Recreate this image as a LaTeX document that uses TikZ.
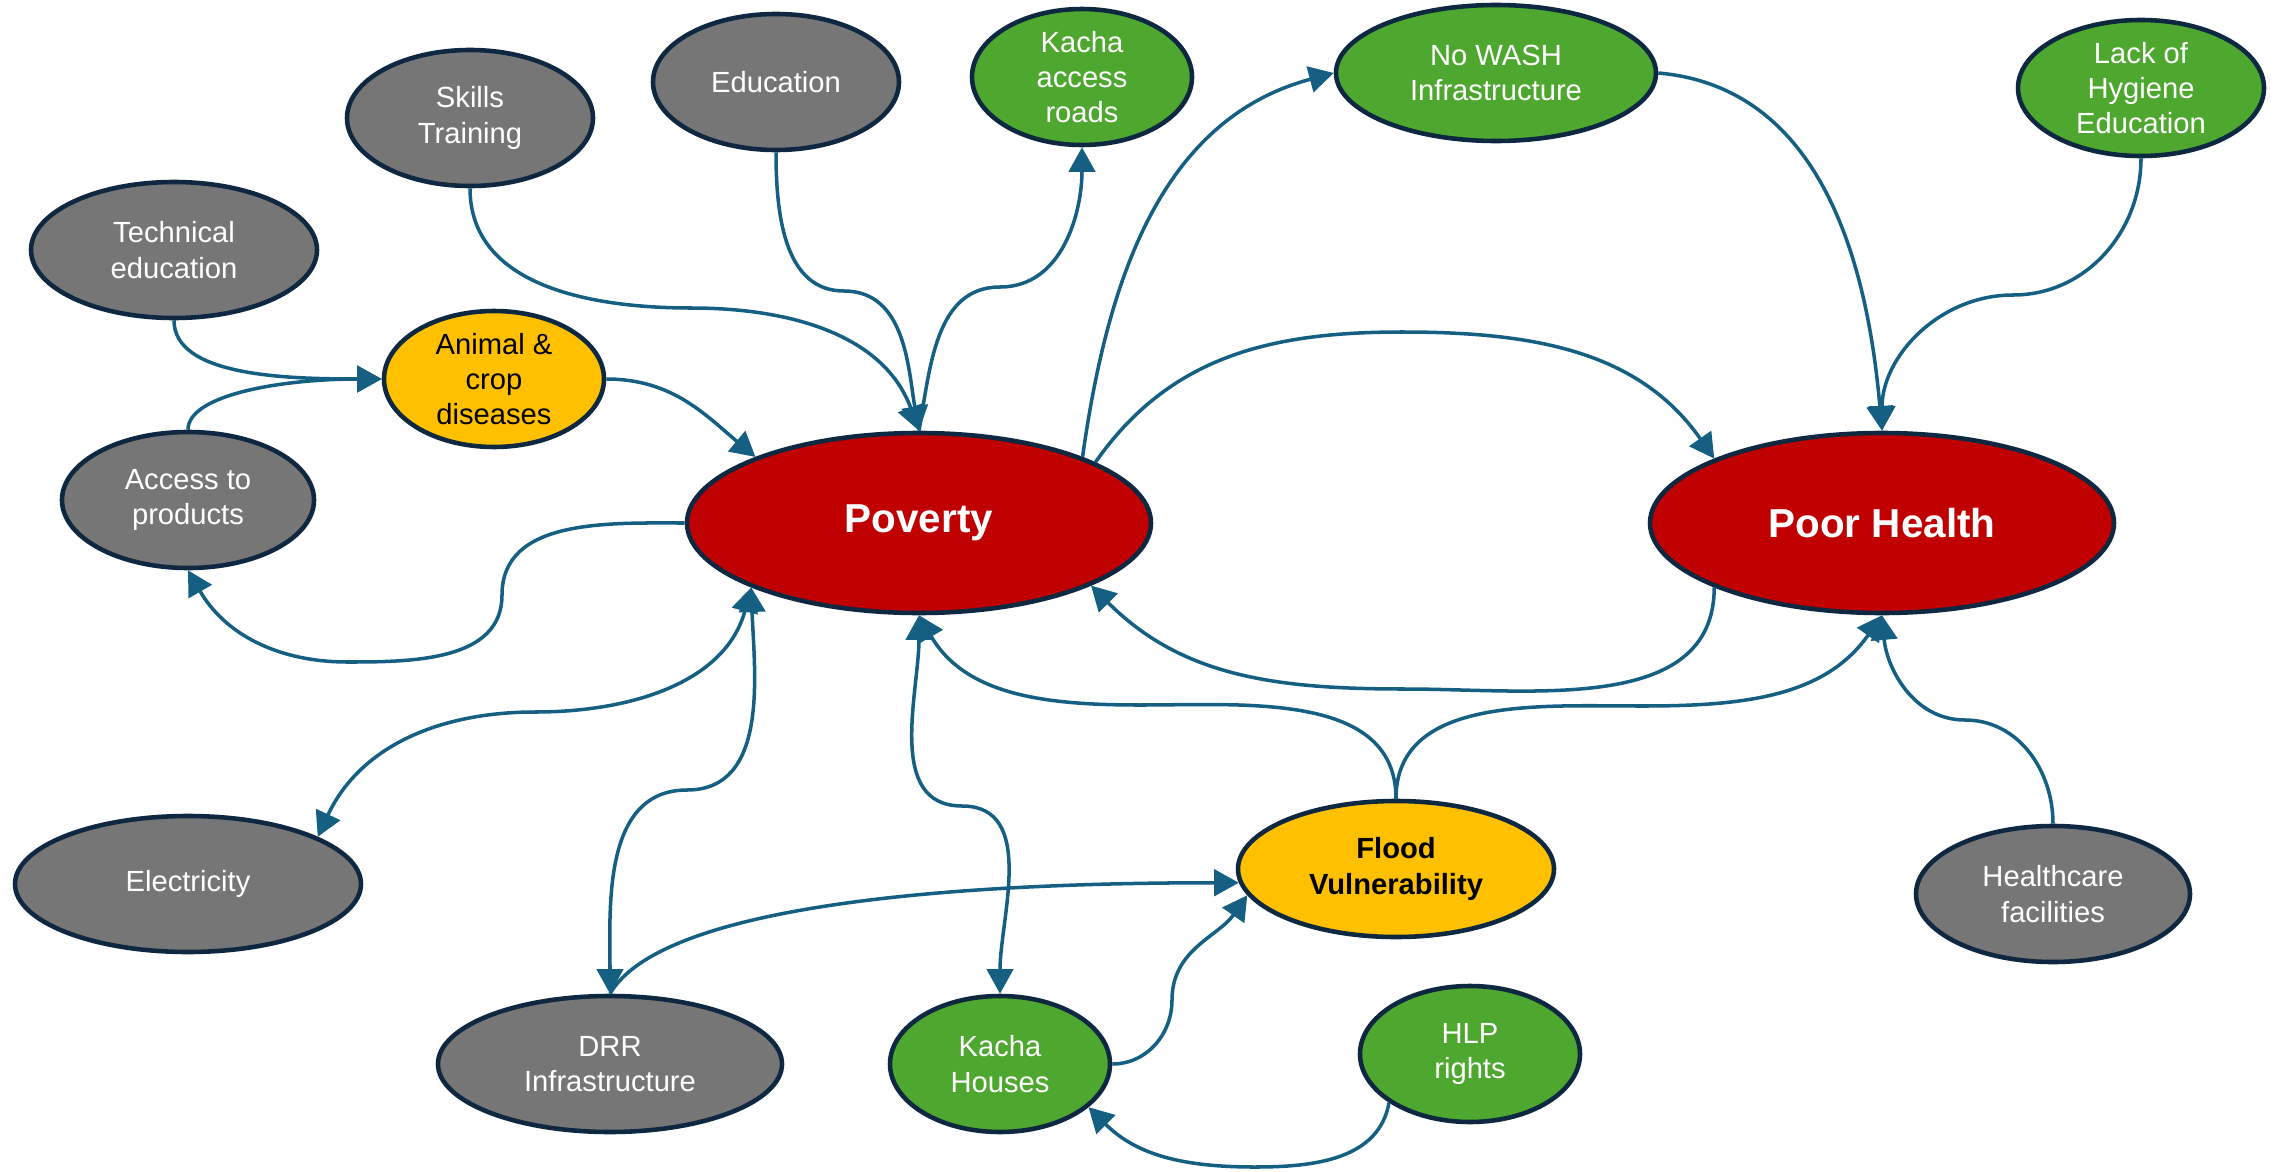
\documentclass[tikz,border=0pt]{standalone}
\usepackage{fontspec}
\setmainfont{Liberation Sans}
\usepackage{tikz}
\usetikzlibrary{
  arrows.meta,
  shapes.geometric
}
\definecolor{rimnavy}{HTML}{0E2841}
\definecolor{linkblue}{HTML}{156082}
\definecolor{fillgrey}{HTML}{767676}
\definecolor{fillgreen}{HTML}{4EA72E}
\definecolor{fillgold}{HTML}{FFC000}
\definecolor{fillred}{HTML}{C00000}
\tikzset{
  bubble/.style={
    ellipse,
    draw=rimnavy,
    line width=1.3pt,
    inner sep=0pt,
    minimum height=1.36cm,
    align=center,
    text=white,
    font=\fontsize{8.3}{10}\selectfont},
  greynode/.style={bubble, fill=fillgrey},
  greennode/.style={bubble, fill=fillgreen},
  goldnode/.style={bubble, fill=fillgold, text=black},
  bignode/.style={bubble, fill=fillred, minimum height=1.8cm,
    font=\fontsize{11.5}{14}\selectfont\bfseries},
  link/.style={
    draw=linkblue,
    line width=1pt,
    >={Triangle[length=7pt,width=7.5pt]}}
  }

\begin{document}
\begin{tikzpicture}
  \useasboundingbox (0,0) rectangle (22.8,-11.72);
  % the two main problems
  \node[bignode, minimum width=4.64cm] (pov) at (9.19,-5.23) {Poverty};
  \node[bignode, minimum width=4.64cm] (hlth) at (18.82,-5.23) {Poor Health};
  % causes
  \node[greynode, minimum width=2.86cm] (tech) at (1.74,-2.50) {Technical\\education};
  \node[greynode, minimum width=2.46cm] (skl) at (4.70,-1.18) {Skills\\Training};
  \node[greynode, minimum width=2.46cm] (edu) at (7.76,-0.82) {Education};
  \node[greennode, minimum width=2.20cm] (road) at (10.82,-0.77) {Kacha\\access\\roads};
  \node[greennode, minimum width=3.20cm] (wash) at (14.96,-0.73) {No WASH\\Infrastructure};
  \node[greennode, minimum width=2.46cm] (hyg) at (21.41,-0.88) {Lack of\\Hygiene\\Education};
  \node[goldnode, minimum width=2.20cm] (anim) at (4.94,-3.79) {Animal \&\\crop\\diseases};
  \node[greynode, minimum width=2.52cm] (acc) at (1.88,-5.00) {Access to\\products};
  \node[greynode, minimum width=3.46cm] (elec) at (1.88,-8.84) {Electricity};
  \node[greynode, minimum width=3.44cm] (drr) at (6.10,-10.64) {DRR\\Infrastructure};
  \node[greennode, minimum width=2.20cm] (kh) at (10.00,-10.64) {Kacha\\Houses};
  \node[greennode, minimum width=2.20cm] (hlp) at (14.70,-10.54) {HLP\\rights};
  \node[goldnode, minimum width=3.16cm, font=\fontsize{8.3}{10}\selectfont\bfseries] (flood) at (13.96,-8.69) {Flood\\Vulnerability};
  \node[greynode, minimum width=2.74cm] (care) at (20.53,-8.94) {Healthcare\\facilities};

  % links into poverty
  \draw[link,->] (skl.south) to[out=-90,in=180] (6.91,-3.08) to[out=0,in=110] (pov.north);
  \draw[link,->] (edu.south) to[out=-90,in=180] (8.44,-2.91) to[out=0,in=100] (pov.north);
  \draw[link,->] (pov.north) to[out=80,in=180] (10.00,-2.87) to[out=0,in=-90] (road.south);
  \draw[link,->] (tech.south) to[out=-90,in=180,out distance=0.55cm,in distance=1cm] (anim.west);
  \draw[link,->] (acc.north) to[out=90,in=180,out distance=0.35cm,in distance=1cm] (anim.west);
  \draw[link,->] (anim.east) to[out=0,in=140] (pov.158);
  \draw[link,->] (pov.west) to[out=180,in=90] (5.02,-5.95) to[out=-90,in=0] (3.48,-6.62)
    to[out=180,in=-60] (acc.south);
  % links into poor health
  \draw[link,->] (pov.22) to[out=82,in=195] (wash.west);
  \draw[link,->] (wash.east) to[out=-5,in=95] (hlth.north);
  \draw[link,->] (hyg.south) to[out=-90,in=0] (20.13,-2.95) to[out=180,in=90] (hlth.north);
  \draw[link,->] (pov.19) to[out=55,in=180] (14.02,-3.32) to[out=0,in=125] (hlth.159);
  \draw[link,->] (hlth.201) to[out=-90,in=0] (14.05,-6.89) to[out=180,in=-45] (pov.-20);
  \draw[link,->] (flood.north) to[out=90,in=0] (11.40,-7.05) to[out=180,in=-60] (pov.south);
  \draw[link,->] (flood.north) to[out=90,in=180] (16.42,-7.06) to[out=0,in=-125] (hlth.south);
  \draw[link,->] (care.north) to[out=90,in=0] (19.65,-7.20) to[out=180,in=-85] (hlth.south);
  % lower half
  \draw[link,<->] (pov.201) to[out=-105,in=0] (5.35,-7.12) to[out=180,in=65] (elec.20);
  \draw[link,<->] (pov.201) to[out=-88,in=0] (6.87,-7.90) to[out=180,in=90] (drr.north);
  \draw[link,<->] (pov.south) to[out=-90,in=180] (9.62,-8.06) to[out=0,in=90] (kh.north);
  \draw[link,->] (drr.north) .. controls +(60:1) and +(180:3) .. (flood.185);
  \draw[link,->] (kh.east) to[out=0,in=-90] (11.72,-10.00) to[out=90,in=-125] (flood.190);
  \draw[link,->] (hlp.211) to[out=-100,in=0] (12.55,-11.67) to[out=180,in=-45] (kh.-26);
\end{tikzpicture}
\end{document}
